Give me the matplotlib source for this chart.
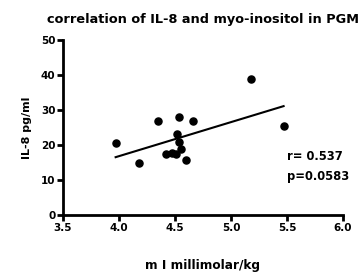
import numpy as np
from matplotlib import pyplot as plt

# myo-inositol (mI, millimolar/kg) vs IL-8 (pg/ml)
mi = [3.97, 4.18, 4.35, 4.42, 4.47, 4.51, 4.52, 4.54, 4.55, 4.54, 4.60, 4.66, 5.18, 5.47]
il8 = [20.5, 15.0, 26.8, 17.4, 17.8, 17.5, 23.1, 21.0, 19.0, 27.9, 15.7, 27.0, 39.0, 25.3]

x_ticks = [3.5, 4.0, 4.5, 5.0, 5.5, 6.0]
y_ticks = [0, 10, 20, 30, 40, 50]

plt.rcParams['font.family'] = ['DejaVu Sans']
plt.rcParams['font.weight'] = 'bold'

fig = plt.figure(figsize=(3.61, 2.74), dpi=100)
ax = fig.add_axes([0.1745, 0.215, 0.7755, 0.639])

ax.scatter(mi, il8, s=26, color='black', zorder=3)

# linear regression line over the data range
slope, intercept = np.polyfit(mi, il8, 1)
xs = np.array([min(mi), max(mi)])
ax.plot(xs, slope * xs + intercept, color='black', lw=1.5)

ax.set_xlim(3.5, 6.0)
ax.set_ylim(0, 50)
ax.set_xticks(x_ticks)
ax.set_xticklabels([f"{v:.1f}" for v in x_ticks])
ax.set_yticks(y_ticks)
for s in ['top', 'right']:
    ax.spines[s].set_visible(False)
for s in ['left', 'bottom']:
    ax.spines[s].set_linewidth(2)
ax.tick_params(width=2, length=4, labelsize=7.5, pad=1.5)
for lbl in ax.get_xticklabels() + ax.get_yticklabels():
    lbl.set_fontweight('bold')

ax.set_title("correlation of IL-8 and myo-inositol in PGM", fontsize=9.3, fontweight='bold', pad=12)
ax.set_xlabel("m I millimolar/kg", fontsize=8.7, fontweight='bold', labelpad=19)
ax.set_ylabel("IL-8 pg/ml", fontsize=8, fontweight='bold', labelpad=6)

ax.text(5.5, 16.6, "r= 0.537", fontsize=8.3, fontweight='bold', va='center')
ax.text(5.5, 11.1, "p=0.0583", fontsize=8.3, fontweight='bold', va='center')

fig.savefig("out.png", dpi=100)
